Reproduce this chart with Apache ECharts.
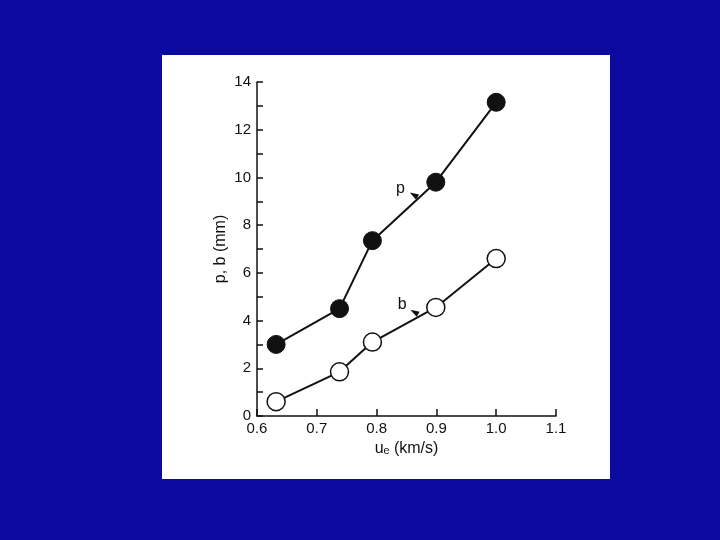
<!DOCTYPE html>
<html><head><meta charset="utf-8">
<script src="https://cdn.jsdelivr.net/npm/echarts@6/dist/echarts.min.js"></script>
<style>html,body{margin:0;padding:0;background:#0a0a9e;}#c{width:720px;height:540px;}</style>
</head><body><div id="c"></div>
<script>
const xValues = [0.632, 0.738, 0.793, 0.899, 1.0];
const pValues = [3.0, 4.5, 7.35, 9.8, 13.15];
const bValues = [0.6, 1.85, 3.1, 4.55, 6.6];
const pLabel = {x: 0.84, y: 9.55, arrowX: 0.862, arrowY: 9.27, text: 'p'};
const bLabel = {x: 0.843, y: 4.65, arrowX: 0.863, arrowY: 4.36, text: 'b'};
const xTicks = ['0.6','0.7','0.8','0.9','1.0','1.1'];

const chart = echarts.init(document.getElementById('c'));
const font = 'Liberation Sans, Arial, sans-serif';
chart.setOption({
  backgroundColor: '#0a0a9e',
  animation: false,
  graphic: [{type:'rect', shape:{x:162,y:55,width:448,height:424}, style:{fill:'#ffffff'}, z:-10}],
  grid: {left: 257, right: 164, top: 82, bottom: 124},
  xAxis: {
    type: 'value', min: 0.6, max: 1.1, interval: 0.1,
    name: 'uₑ (km/s)', nameLocation: 'middle', nameGap: 24,
    nameTextStyle: {color:'#111', fontSize: 16, fontFamily: font},
    axisLine: {lineStyle:{color:'#111', width:1.5}},
    axisTick: {inside: true, length: 7, lineStyle:{color:'#111', width:1.5}},
    axisLabel: {color:'#111', fontSize: 15, fontFamily: font, margin: 5,
      formatter: v => xTicks[Math.round((v-0.6)*10)] },
    splitLine: {show:false}
  },
  yAxis: {
    type: 'value', min: 0, max: 14, interval: 2,
    name: 'p, b (mm)', nameLocation: 'middle', nameGap: 28,
    nameTextStyle: {color:'#111', fontSize: 16, fontFamily: font},
    axisLine: {lineStyle:{color:'#111', width:1.5}},
    axisTick: {inside: true, length: 6, lineStyle:{color:'#111', width:1.5}},
    minorTick: {show: true, splitNumber: 2, length: 6, lineStyle:{color:'#111', width:1.5}},
    axisLabel: {color:'#111', fontSize: 15, fontFamily: font, margin: 6},
    splitLine: {show:false}
  },
  series: [
    {type:'line', data: xValues.map((x,i)=>[x,pValues[i]]), symbol:'circle', symbolSize:18,
     lineStyle:{color:'#111', width:2}, itemStyle:{color:'#111', borderColor:'#111', borderWidth:1}, z:3},
    {type:'line', data: xValues.map((x,i)=>[x,bValues[i]]), symbol:'circle', symbolSize:18,
     lineStyle:{color:'#111', width:2}, itemStyle:{color:'#fff', borderColor:'#111', borderWidth:1.5}, z:3},
    {type:'scatter', data: [[pLabel.x,pLabel.y],[bLabel.x,bLabel.y]], symbolSize: 0,
     itemStyle:{opacity:1},
     label:{show:true, position:'inside', color:'#111', fontSize:16, fontFamily:font,
       formatter: p => [pLabel.text,bLabel.text][p.dataIndex]}, z:4},
    {type:'scatter', data: [[pLabel.arrowX,pLabel.arrowY],[bLabel.arrowX,bLabel.arrowY]],
     symbol:'triangle', symbolSize:[6,9], symbolRotate: 60, itemStyle:{color:'#111', opacity:1}, z:4}
  ]
});
</script></body></html>
